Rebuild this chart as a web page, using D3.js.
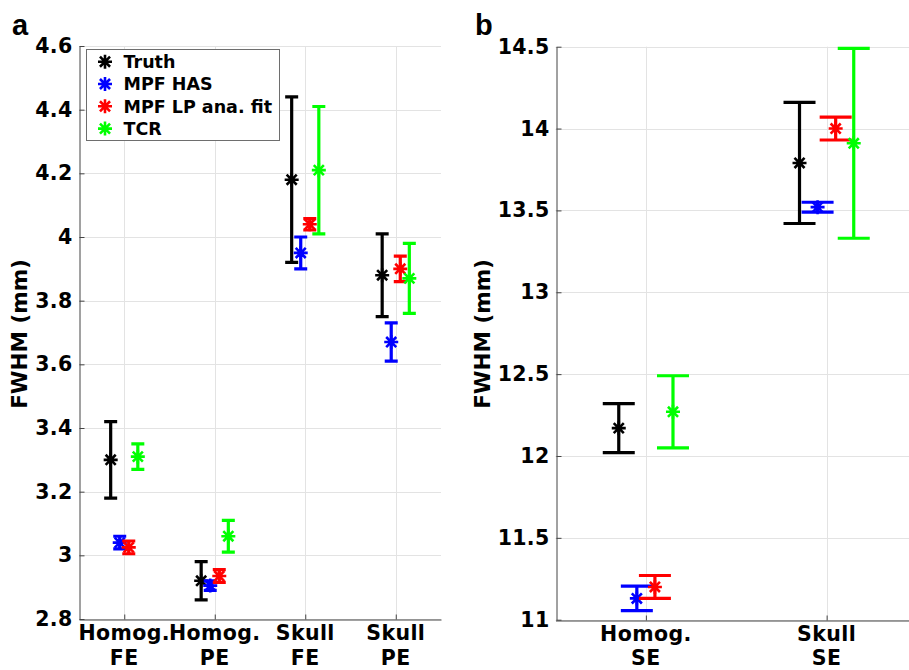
<!DOCTYPE html>
<html>
<head>
<meta charset="utf-8">
<script src="https://cdn.jsdelivr.net/npm/d3@7"></script>
<style>
  body { margin: 0; background: #fff; }
  svg { display: block; font-family: 'DejaVu Sans', sans-serif; font-weight: bold; }
</style>
</head>
<body>
<script>
const seriesNames = ['Truth', 'MPF HAS', 'MPF LP ana. fit', 'TCR'];
const seriesColors = ['#000000', '#0000ff', '#ff0000', '#00ff00'];
const seriesOffsets = [-0.15, -0.05, 0.05, 0.15];

// panel a
const catsA = [['Homog.', 'FE'], ['Homog.', 'PE'], ['Skull', 'FE'], ['Skull', 'PE']];
const ticksA = [2.8, 3, 3.2, 3.4, 3.6, 3.8, 4, 4.2, 4.4, 4.6];
const truthA = [3.30, 2.92, 4.18, 3.88];
const truthErrA = [0.12, 0.06, 0.26, 0.13];
const hasA = [3.04, 2.905, 3.95, 3.67];
const hasErrA = [0.02, 0.015, 0.05, 0.06];
const lpA = [3.025, 2.935, 4.04, 3.90];
const lpErrA = [0.02, 0.02, 0.018, 0.04];
const tcrA = [3.31, 3.06, 4.21, 3.87];
const tcrErrA = [0.04, 0.05, 0.20, 0.11];

// panel b
const catsB = [['Homog.', 'SE'], ['Skull', 'SE']];
const ticksB = [11, 11.5, 12, 12.5, 13, 13.5, 14, 14.5];
const truthB = [12.17, 13.79];
const truthErrB = [0.15, 0.37];
const hasB = [11.13, 13.52];
const hasErrB = [0.075, 0.03];
const lpB = [11.20, 14.00];
const lpErrB = [0.07, 0.07];
const tcrB = [12.27, 13.91];
const tcrErrB = [0.22, 0.58];

const W = 909, H = 670;
const svg = d3.select('body').append('svg')
  .attr('width', W)
  .attr('height', H);

function star(cx, cy, r) {
  const d = r * 0.72;
  return `M${cx - r},${cy}H${cx + r}M${cx},${cy - r}V${cy + r}` +
    `M${cx - d},${cy - d}L${cx + d},${cy + d}M${cx - d},${cy + d}L${cx + d},${cy - d}`;
}

function drawPanel(p) {
  const n = p.cats.length;
  const x = d3.scaleLinear().domain([0.5, n + 0.5]).range([p.left, p.right]);
  const y = d3.scaleLinear()
    .domain([p.ticks[0], p.ticks[p.ticks.length - 1]])
    .range([p.bottom, p.top]);
  const g = svg.append('g');

  // grid
  g.append('g').selectAll('line')
    .data(p.ticks)
    .join('line')
    .attr('x1', p.left).attr('x2', p.right)
    .attr('y1', d => Math.round(y(d)) + 0.5).attr('y2', d => Math.round(y(d)) + 0.5)
    .attr('stroke', '#e3e3e3');
  g.append('g').selectAll('line')
    .data(d3.range(1, n + 1))
    .join('line')
    .attr('x1', d => Math.round(x(d)) + 0.5).attr('x2', d => Math.round(x(d)) + 0.5)
    .attr('y1', p.top).attr('y2', p.bottom)
    .attr('stroke', '#e3e3e3');

  // axes
  const yAxis = d3.axisLeft(y)
    .tickValues(p.ticks)
    .tickSizeInner(-5)
    .tickSizeOuter(0)
    .tickPadding(7)
    .tickFormat(d => String(+d.toFixed(1)));
  const ya = g.append('g')
    .attr('transform', `translate(${Math.round(p.left) + 0.5},0)`)
    .call(yAxis);
  const xAxis = d3.axisBottom(x)
    .tickValues(d3.range(1, n + 1))
    .tickSizeInner(-5)
    .tickSizeOuter(0)
    .tickFormat('');
  const xa = g.append('g')
    .attr('transform', `translate(0,${Math.round(p.bottom) + 0.5})`)
    .call(xAxis);
  [ya, xa].forEach(a => {
    a.attr('font-family', null).attr('font-size', null);
    a.selectAll('path, line').attr('stroke', '#444');
    a.selectAll('text')
      .attr('fill', '#000')
      .style('font-size', '20.5px')
      .style('letter-spacing', '0.3px');
  });

  // two-line category labels
  const lab = g.append('g').selectAll('text')
    .data(p.cats)
    .join('text')
    .attr('text-anchor', 'middle')
    .style('font-size', '20.5px')
    .style('letter-spacing', '0.4px')
    .attr('transform', (d, i) => `translate(${x(i + 1)},${p.bottom + 21})`);
  lab.append('tspan').attr('x', 0).attr('y', 0).text(d => d[0]);
  lab.append('tspan').attr('x', 0).attr('y', 24.5).text(d => d[1]);

  // y label
  g.append('text')
    .attr('transform', `translate(${p.ylabX},334) rotate(-90)`)
    .attr('text-anchor', 'middle')
    .style('font-size', '21.5px')
    .text('FWHM (mm)');

  // panel letter
  g.append('text')
    .attr('x', p.letterX)
    .attr('y', 35)
    .style('font-family', "'Liberation Sans', Arial, sans-serif")
    .style('font-size', '29px')
    .text(p.letter);

  // error bars
  p.series.forEach((s, si) => {
    const sg = g.append('g')
      .attr('stroke', seriesColors[si])
      .attr('fill', 'none');
    const pts = s.mean.map((m, i) => ({ cx: x(i + 1 + seriesOffsets[si]), m, e: s.err[i] }));
    sg.selectAll('path.bar')
      .data(pts)
      .join('path')
      .attr('class', 'bar')
      .attr('stroke-width', 3.2)
      .attr('d', d => {
        const y0 = y(d.m - d.e), y1 = y(d.m + d.e), c = p.cap / 2;
        return `M${d.cx},${y0}V${y1}M${d.cx - c},${y0}H${d.cx + c}M${d.cx - c},${y1}H${d.cx + c}`;
      });
    sg.selectAll('path.mk')
      .data(pts)
      .join('path')
      .attr('class', 'mk')
      .attr('stroke-width', 2.6)
      .attr('d', d => star(d.cx, y(d.m), 7));
  });
}

drawPanel({
  left: 79, right: 441, top: 46, bottom: 619,
  cats: catsA, ticks: ticksA, cap: 13, ylabX: 27, letter: 'a', letterX: 12,
  series: [
    { mean: truthA, err: truthErrA },
    { mean: hasA, err: hasErrA },
    { mean: lpA, err: lpErrA },
    { mean: tcrA, err: tcrErrA }
  ]
});

drawPanel({
  left: 555.5, right: 917, top: 46.7, bottom: 619.7,
  cats: catsB, ticks: ticksB, cap: 32, ylabX: 490, letter: 'b', letterX: 475,
  series: [
    { mean: truthB, err: truthErrB },
    { mean: hasB, err: hasErrB },
    { mean: lpB, err: lpErrB },
    { mean: tcrB, err: tcrErrB }
  ]
});

// legend in panel a
const leg = svg.append('g');
leg.append('rect')
  .attr('x', 86.5).attr('y', 49.5)
  .attr('width', 193).attr('height', 91)
  .attr('fill', '#fff')
  .attr('stroke', '#6e6e6e');
const row = leg.selectAll('g.row')
  .data(seriesNames)
  .join('g')
  .attr('class', 'row')
  .attr('transform', (d, i) => `translate(0,${61.7 + i * 22.3})`);
row.append('path')
  .attr('d', star(105, 0, 7))
  .attr('fill', 'none')
  .attr('stroke-width', 2.6)
  .attr('stroke', (d, i) => seriesColors[i]);
row.append('text')
  .attr('x', 123.5)
  .attr('y', 6.2)
  .style('font-size', '17.5px')
  .text(d => d);
</script>
</body>
</html>
